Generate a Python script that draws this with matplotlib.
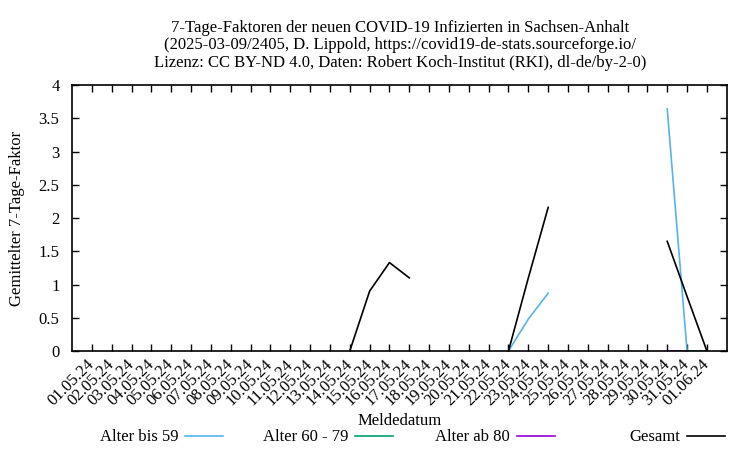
import numpy as np
import matplotlib.pyplot as plt
import matplotlib.dates as mdates
from matplotlib.lines import Line2D
from datetime import date, timedelta

plt.rcParams['font.family'] = ['Liberation Serif', 'DejaVu Serif']

# Meldedatum: 01.05.24 .. 01.06.24
dates = [date(2024, 5, 1) + timedelta(days=i) for i in range(32)]
nan = np.nan

# 7-Tage-Faktoren (NaN = kein Wert)
gesamt = [nan] * 32
for d, v in {14: 0.0, 15: 0.9, 16: 1.33, 17: 1.1,
             22: 0.0, 23: 1.1, 24: 2.16,
             30: 1.65, 31: 0.82, 32: 0.0}.items():
    gesamt[d - 1] = v

bis59 = [nan] * 32
for d, v in {22: 0.0, 23: 0.48, 24: 0.87, 30: 3.64, 31: 0.0}.items():
    bis59[d - 1] = v

alter6079 = [nan] * 32
for d, v in {31: 0.0, 32: 0.0}.items():
    alter6079[d - 1] = v

ab80 = [nan] * 32
for d, v in {30: 0.0, 31: 0.0}.items():
    ab80[d - 1] = v

series = [
    ("Alter bis 59", bis59, "#56b4e9"),
    ("Alter 60 - 79", alter6079, "#009e73"),
    ("Alter ab 80", ab80, "#9400d3"),
    ("Gesamt", gesamt, "black"),
]

fig = plt.figure(figsize=(7.5, 4.5), dpi=100)
ax = fig.add_axes([0.096, 0.22, 0.873, 0.591])

for label, vals, col in series:
    ax.plot(dates, vals, color=col, lw=1.2)

ax.set_xlim(date(2024, 4, 30), date(2024, 6, 2))
ax.set_ylim(0, 4)
ax.set_yticks(np.arange(0, 4.01, 0.5))
ax.set_yticklabels(["0", "0.5", "1", "1.5", "2", "2.5", "3", "3.5", "4"])
ax.set_xticks(dates)
ax.xaxis.set_major_formatter(mdates.DateFormatter('%d.%m.%y'))
plt.setp(ax.get_xticklabels(), rotation=45, ha='right', va='center',
         rotation_mode='anchor')
ax.tick_params(direction='in', top=True, right=True, length=5, labelsize=12, width=1)
ax.tick_params(axis='x', pad=8)
ax.tick_params(axis='y', pad=9)
for s in ax.spines.values():
    s.set_linewidth(1.2)

ax.set_ylabel("Gemittelter 7-Tage-Faktor", fontsize=12)
ax.yaxis.set_label_coords(-0.072, 0.5)
fig.text(0.533, 0.064, "Meldedatum", ha='center', va='center', fontsize=12)

fig.text(0.533, 0.899, "7-Tage-Faktoren der neuen COVID-19 Infizierten in Sachsen-Anhalt\n"
         "(2025-03-09/2405, D. Lippold, https://covid19-de-stats.sourceforge.io/\n"
         "Lizenz: CC BY-ND 4.0, Daten: Robert Koch-Institut (RKI), dl-de/by-2-0)",
         ha='center', va='center', fontsize=12, linespacing=1.15)

# Legende unten
leg_y = 0.028
text_right = [178, 348, 510, 680]
for (label, vals, col), xr in zip(series, text_right):
    fig.text(xr / 750, leg_y, label, ha='right', va='center', fontsize=12)
    fig.add_artist(Line2D([(xr + 7) / 750, (xr + 45) / 750], [leg_y + 0.004, leg_y + 0.004],
                          color=col, lw=1.2, transform=fig.transFigure))

fig.savefig("out.png", dpi=100)
